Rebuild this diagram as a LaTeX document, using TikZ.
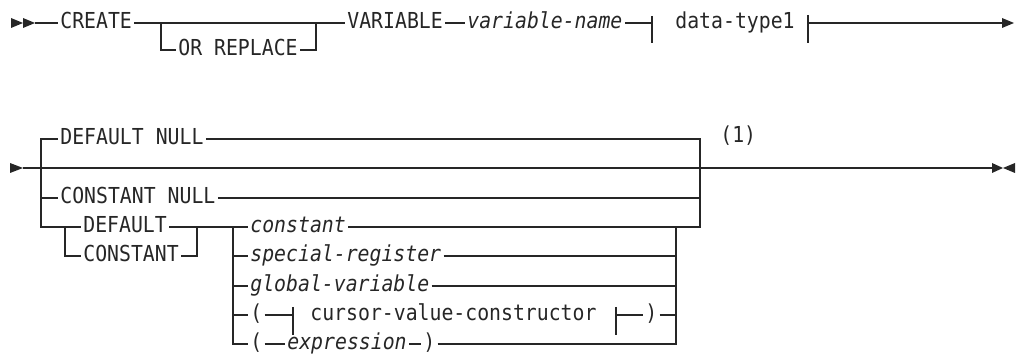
\documentclass[tikz,border=0pt]{standalone}
\usepackage{fontspec}
\setmainfont{DejaVu Sans Mono}[FakeStretch=0.9]
\usetikzlibrary{arrows.meta}

\begin{document}
\begin{tikzpicture}[
    x=0.5pt, y=-0.5pt,
    word/.style={anchor=west, inner xsep=1pt, inner ysep=0pt, text height=5.5pt, text depth=0pt, text=black!85, font=\fontsize{11}{13}\selectfont},
    varword/.style={word, font=\fontsize{11}{13}\selectfont\itshape},
    rail/.style={line width=0.6pt, draw=black!85},
    tip/.style={fill=black!85},
]
    \useasboundingbox (0,0) rectangle (1017,356);

    % First line: CREATE [OR REPLACE] VARIABLE
    \node (create) [word] at (58,23) {CREATE};
    \node (orreplace) [word] at (176,50) {OR REPLACE};
    \node (variable) [word] at (345,23) {VARIABLE};
    \node (varname) [varword] at (465,23) {variable-name};
    \node (datatype) [word] at (673,23) {data-type1};

    \coordinate (start1) at (35,23);
    \coordinate (split1) at (161,23);
    \coordinate (join1) at (316,23);
    \coordinate (tick1) at (652,23);
    \coordinate (tick2) at (808,23);
    \coordinate (end1) at (1003,23);

    \fill[tip] (11,18) -- (23,23) -- (11,28) -- cycle;
    \fill[tip] (23,18) -- (35,23) -- (23,28) -- cycle;
    \draw[rail] (start1) -- (create.west);
    \draw[rail] (create.east) -- (variable.west);
    \draw[rail] (split1) |- (orreplace.west);
    \draw[rail] (orreplace.east) -| (join1);
    \draw[rail] (variable.east) -- (varname.west);
    \draw[rail] (varname.east) -- (tick1);
    \draw[rail] (tick1) ++(0,-7) -- ++(0,27);
    \draw[rail] (tick2) ++(0,-8) -- ++(0,28);
    \draw[rail] (tick2) -- (end1);
    \fill[tip] (1002,18) -- (1014,23) -- (1002,28) -- cycle;

    % Second line: default clause
    \node (defnull) [word] at (58,139) {DEFAULT NULL};
    \node (connull) [word] at (58,198) {CONSTANT NULL};
    \node (default) [word] at (81,227) {DEFAULT};
    \node (constant) [word] at (81,256) {CONSTANT};
    \node (note) [word] at (718,137) {(1)};

    \node (const) [varword] at (248,227) {constant};
    \node (specreg) [varword] at (248,256) {special-register};
    \node (globvar) [varword] at (248,286) {global-variable};
    \node (lparA) [word] at (248,315) {(};
    \node (cursor) [word] at (308,315) {cursor-value-constructor};
    \node (rparA) [word] at (643,315) {)};
    \node (lparB) [word] at (248,344) {(};
    \node (expr) [varword] at (285,344) {expression};
    \node (rparB) [word] at (421,344) {)};

    \coordinate (start2) at (23,168);
    \coordinate (end2) at (993,168);
    \coordinate (split2) at (41,168);
    \coordinate (join2) at (700,168);
    \coordinate (split3) at (65,227);
    \coordinate (join3) at (197,227);
    \coordinate (split4) at (233,227);
    \coordinate (join4) at (676,227);
    \coordinate (tickA) at (293,315);
    \coordinate (tickB) at (616,315);

    \fill[tip] (10,163) -- (23,168) -- (10,173) -- cycle;
    \draw[rail] (start2) -- (end2);
    \fill[tip] (992,163) -- (1003,168) -- (992,173) -- cycle;
    \fill[tip] (1015,163) -- (1003,168) -- (1015,173) -- cycle;

    \draw[rail] (split2) |- (defnull.west);
    \draw[rail] (defnull.east) -| (join2);
    \draw[rail] (split2) |- (connull.west);
    \draw[rail] (connull.east) -| (join2);
    \draw[rail] (split2) |- (default.west);
    \draw[rail] (split3) |- (constant.west);
    \draw[rail] (constant.east) -| (join3);
    \draw[rail] (default.east) -- (const.west);
    \draw[rail] (const.east) -| (join2);

    \draw[rail] (split4) |- (specreg.west);
    \draw[rail] (split4) |- (globvar.west);
    \draw[rail] (split4) |- (lparA.west);
    \draw[rail] (split4) |- (lparB.west);
    \draw[rail] (specreg.east) -| (join4);
    \draw[rail] (globvar.east) -| (join4);
    \draw[rail] (lparA.east) -- (tickA);
    \draw[rail] (tickA) ++(0,-8) -- ++(0,28);
    \draw[rail] (tickB) ++(0,-8) -- ++(0,28);
    \draw[rail] (tickB) -- (rparA.west);
    \draw[rail] (rparA.east) -| (join4);
    \draw[rail] (lparB.east) -- (expr.west);
    \draw[rail] (expr.east) -- (rparB.west);
    \draw[rail] (rparB.east) -| (join4);

\end{tikzpicture}
\end{document}
